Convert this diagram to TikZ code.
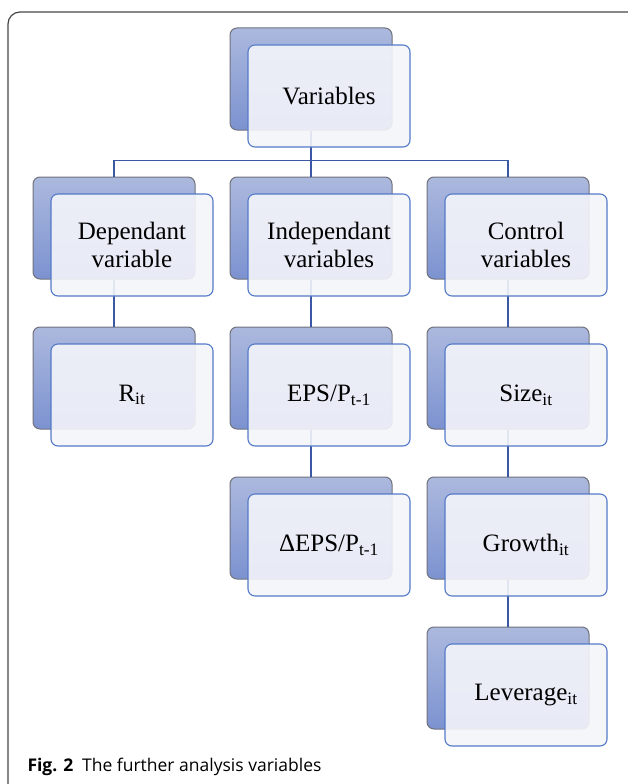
\documentclass[tikz,border=0pt]{standalone}
\usepackage{fontspec}
\setmainfont{Liberation Serif}
\newfontfamily\capfont{Open Sans}
\usetikzlibrary{positioning}

\definecolor{backtop}{RGB}{172,185,222}
\definecolor{backbot}{RGB}{124,146,208}
\definecolor{backline}{RGB}{112,114,124}
\definecolor{frontfill}{RGB}{244,245,250}
\definecolor{frontline}{RGB}{84,122,200}
\definecolor{linkblue}{RGB}{58,88,164}

\begin{document}
\begin{tikzpicture}[x=1pt,y=-1pt,
		back/.style={draw=backline,line width=1pt,top color=backtop,bottom color=backbot,rounded corners=7pt,minimum width=162pt,minimum height=102pt},
		front/.style={draw=frontline,line width=1.1pt,fill=frontfill,fill opacity=0.9,text opacity=1,rounded corners=7pt,minimum width=162pt,minimum height=102pt,xshift=18pt,yshift=-17pt,align=center,font=\fontsize{25}{28}\selectfont},
		link/.style={draw=linkblue,line width=1.5pt}]
					\useasboundingbox (0,0) rectangle (627,784);
					\draw[gray!55!black,line width=1.2pt,rounded corners=12pt] (8,12) rectangle (640,800);
					% back boxes
					\node[back](b1) at (311,79){};
					\node[back](b2) at (114,228){};
					\node[back](b3) at (311,228){};
					\node[back](b4) at (508,228){};
					\node[back](b5) at (114,378){};
					\node[back](b6) at (311,378){};
					\node[back](b7) at (508,378){};
					\node[back](b8) at (311,528){};
					\node[back](b9) at (508,528){};
					\node[back](b10) at (508,678){};
					% links
					\draw[link] (b1.south) -- ++(0,30) -| (b2.north);
					\draw[link] (b1.south) -- ++(0,30) -| (b3.north);
					\draw[link] (b1.south) -- ++(0,30) -| (b4.north);
					\path[link]
						(b2) edge (b5)
						(b3) edge (b6)
						(b6) edge (b8)
						(b4) edge (b7)
						(b7) edge (b9)
						(b9) edge (b10);
					% front boxes
					\node[front](f1) at (b1){Variables};
					\node[front](f2) at (b2){Dependant\\variable};
					\node[front](f3) at (b3){Independant\\variables};
					\node[front](f4) at (b4){Control\\variables};
					\node[front](f5) at (b5){R\textsubscript{it}};
					\node[front](f6) at (b6){EPS/P\textsubscript{t-1}};
					\node[front](f7) at (b7){Size\textsubscript{it}};
					\node[front](f8) at (b8){ΔEPS/P\textsubscript{t-1}};
					\node[front](f9) at (b9){Growth\textsubscript{it}};
					\node[front](f10) at (b10){Leverage\textsubscript{it}};
					% caption
					\node[anchor=base west,font=\capfont\fontsize{17.5}{20}\selectfont](cap) at (24,771){\textbf{Fig. 2}\enspace The further analysis variables};
				\end{tikzpicture}
\end{document}
